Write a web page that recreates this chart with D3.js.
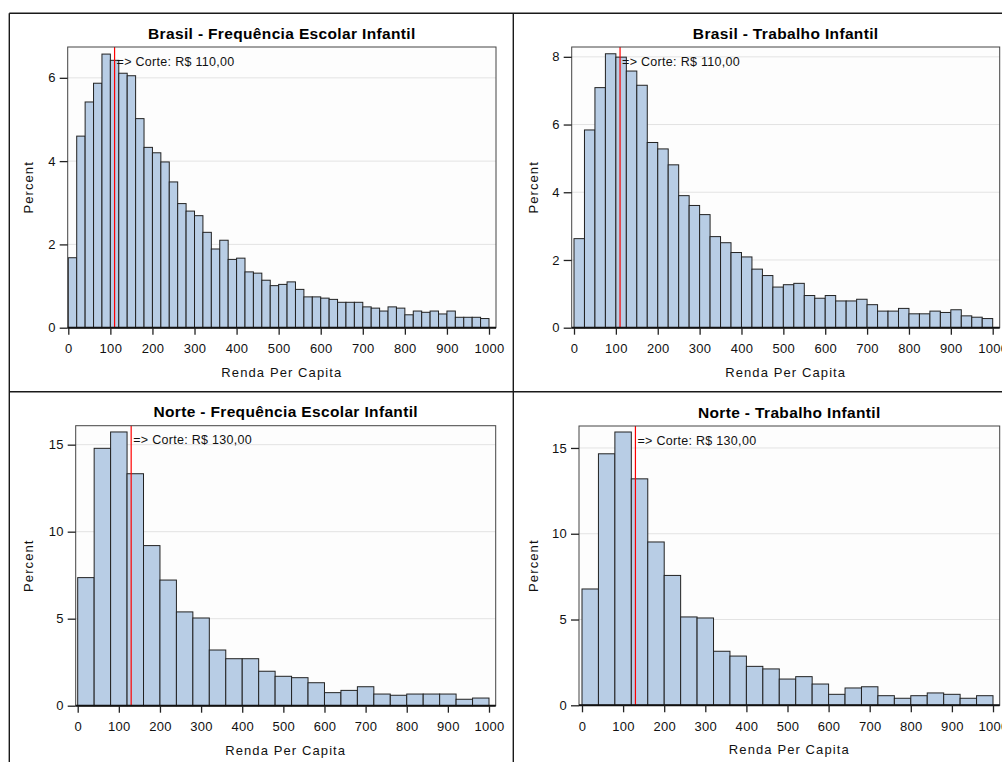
<!DOCTYPE html>
<html>
<head>
<meta charset="utf-8">
<script src="https://cdn.jsdelivr.net/npm/d3@7"></script>
<style>
  body { margin: 0; background: #fff; }
  svg { display: block; font-family: "Liberation Sans", Arial, sans-serif; }
  .title { font-size: 15.5px; font-weight: bold; fill: #000; letter-spacing: 0.35px; }
  .tick-label { font-size: 13px; fill: #111; letter-spacing: 0.3px; }
  .axis-label { font-size: 13px; fill: #111; letter-spacing: 1.1px; }
  .corte { font-size: 12.5px; fill: #111; letter-spacing: 0.3px; }
</style>
</head>
<body>
<svg id="chart" width="1002" height="762"></svg>
<script>
/* values (percent per bin) */
const incomeTicks = [0, 100, 200, 300, 400, 500, 600, 700, 800, 900, 1000];

const brasilEscola = [1.68, 4.60, 5.42, 5.87, 6.57, 6.42, 6.11, 6.05, 5.02, 4.33,
                      4.20, 3.98, 3.50, 2.98, 2.80, 2.69, 2.29, 1.89, 2.10, 1.64,
                      1.67, 1.34, 1.31, 1.14, 1.01, 1.04, 1.10, 0.92, 0.74, 0.74,
                      0.71, 0.68, 0.61, 0.61, 0.61, 0.50, 0.47, 0.40, 0.50, 0.47,
                      0.31, 0.40, 0.37, 0.40, 0.33, 0.40, 0.25, 0.25, 0.25, 0.22];
const brasilTrabalho = [2.63, 5.84, 7.09, 8.09, 7.99, 7.58, 7.16, 5.47, 5.28, 4.81,
                        3.90, 3.61, 3.34, 2.69, 2.51, 2.22, 2.09, 1.73, 1.54, 1.20,
                        1.27, 1.31, 0.95, 0.87, 0.95, 0.79, 0.79, 0.84, 0.68, 0.49,
                        0.49, 0.57, 0.41, 0.41, 0.49, 0.45, 0.53, 0.35, 0.31, 0.27];
const norteEscola = [7.36, 14.79, 15.73, 13.33, 9.20, 7.22, 5.39, 5.04, 3.20, 2.70,
                     2.70, 1.98, 1.69, 1.61, 1.32, 0.75, 0.88, 1.09, 0.67, 0.60,
                     0.67, 0.67, 0.67, 0.37, 0.44];
const norteTrabalho = [6.78, 14.66, 15.93, 13.20, 9.52, 7.57, 5.15, 5.09, 3.15, 2.87,
                       2.27, 2.12, 1.53, 1.67, 1.24, 0.64, 1.01, 1.08, 0.56, 0.41,
                       0.56, 0.72, 0.64, 0.41, 0.56];

const binWidths = [20, 25, 40, 40];
const cortes = [110, 110, 130, 130];
const titles = ['Brasil - Frequência Escolar Infantil', 'Brasil - Trabalho Infantil',
                'Norte - Frequência Escolar Infantil', 'Norte - Trabalho Infantil'];
const yTicksBrasilEscola = [0, 2, 4, 6];
const yTicksBrasilTrabalho = [0, 2, 4, 6, 8];
const yTicksNorte = [0, 5, 10, 15];

const svg = d3.select('#chart');

/* one histogram panel; box = plot frame, x0/x1 = where 0 and 1000 fall */
let panel = (cfg) => {
    let g = svg.append('g');
    let b = cfg.box;

    let xScale = d3.scaleLinear().domain([0, 1000]).range([cfg.x0, cfg.x1]);
    let yScale = d3.scaleLinear().domain([0, cfg.yMax]).range([b.y + b.h, b.y]);

    // plot area + grid
    g.append('rect').attr('x', b.x).attr('y', b.y).attr('width', b.w).attr('height', b.h)
        .attr('fill', '#fdfdfd');
    g.selectAll('.grid').data(cfg.yTicks.filter(d => d > 0)).enter().append('line')
        .attr('x1', b.x).attr('x2', b.x + b.w)
        .attr('y1', d => yScale(d)).attr('y2', d => yScale(d))
        .attr('stroke', '#e3e3e3').attr('stroke-width', 1);

    // bars
    g.selectAll('.bar').data(cfg.values).enter().append('rect')
        .attr('x', (d, i) => xScale(i * cfg.bin))
        .attr('y', d => yScale(d))
        .attr('width', xScale(cfg.bin) - xScale(0))
        .attr('height', d => yScale(0) - yScale(d))
        .attr('fill', '#b8cde5').attr('stroke', '#222').attr('stroke-width', 1);

    // cut-off line + note
    g.append('line').attr('x1', xScale(cfg.corte)).attr('x2', xScale(cfg.corte))
        .attr('y1', b.y).attr('y2', b.y + b.h).attr('stroke', '#ff0000').attr('stroke-width', 1.2);
    g.append('text').classed('corte', true)
        .attr('x', xScale(cfg.corte) + 2).attr('y', b.y + 18.5)
        .text('=> Corte: R$ ' + cfg.corte + ',00');

    // frame
    g.append('rect').attr('x', b.x).attr('y', b.y).attr('width', b.w).attr('height', b.h)
        .attr('fill', 'none').attr('stroke', '#444').attr('stroke-width', 1);
    g.append('line').attr('x1', b.x).attr('x2', b.x + b.w)
        .attr('y1', b.y + b.h).attr('y2', b.y + b.h).attr('stroke', '#111').attr('stroke-width', 2);

    // axes
    let xAxis = d3.axisBottom(xScale).tickValues(incomeTicks).tickSize(7).tickPadding(9)
        .tickFormat(d3.format('d'));
    let xg = g.append('g').attr('transform', 'translate(0,' + (b.y + b.h) + ')').call(xAxis);
    let yAxis = d3.axisLeft(yScale).tickValues(cfg.yTicks).tickSize(8).tickPadding(4)
        .tickFormat(d3.format('d'));
    let yg = g.append('g').attr('transform', 'translate(' + b.x + ',0)').call(yAxis);
    [xg, yg].forEach(a => {
        a.select('.domain').remove();
        a.selectAll('.tick line').attr('stroke', '#222').attr('stroke-width', 1.3);
        a.selectAll('.tick text').attr('class', 'tick-label');
        a.attr('font-family', null).attr('font-size', null);
    });

    // titles
    g.append('text').classed('title', true).attr('text-anchor', 'middle')
        .attr('x', b.x + b.w / 2).attr('y', b.y - 8.5).text(cfg.title);
    g.append('text').classed('axis-label', true).attr('text-anchor', 'middle')
        .attr('x', b.x + b.w / 2).attr('y', b.y + b.h + 49).text('Renda Per Capita');
    g.append('text').classed('axis-label', true).attr('text-anchor', 'middle')
        .attr('transform', 'translate(' + cfg.yLabelX + ',' + (b.y + b.h / 2) + ') rotate(-90)')
        .text('Percent');
};

panel({ title: titles[0], values: brasilEscola, bin: binWidths[0], corte: cortes[0],
        yTicks: yTicksBrasilEscola, yMax: 6.74,
        box: { x: 67.7, y: 47, w: 428.3, h: 280.7 }, x0: 68.3, x1: 489, yLabelX: 32.5 });
panel({ title: titles[1], values: brasilTrabalho, bin: binWidths[1], corte: cortes[1],
        yTicks: yTicksBrasilTrabalho, yMax: 8.29,
        box: { x: 571.7, y: 47, w: 428, h: 280.7 }, x0: 574, x1: 992.7, yLabelX: 537.5 });
panel({ title: titles[2], values: norteEscola, bin: binWidths[2], corte: cortes[2],
        yTicks: yTicksNorte, yMax: 16.09,
        box: { x: 75.7, y: 425.7, w: 420, h: 280 }, x0: 77.7, x1: 489, yLabelX: 32.5 });
panel({ title: titles[3], values: norteTrabalho, bin: binWidths[3], corte: cortes[3],
        yTicks: yTicksNorte, yMax: 16.28,
        box: { x: 579, y: 426, w: 420.7, h: 279.3 }, x0: 582, x1: 993, yLabelX: 537.5 });

// outer grid of the 2x2 layout
const borderLines = [
    [9.3, 13.3, 1002, 13.3], [9.3, 13.3, 9.3, 762],
    [513.3, 13.3, 513.3, 762], [9.3, 391.7, 1002, 391.7]
];
svg.selectAll('.border').data(borderLines).enter().append('line')
    .attr('x1', d => d[0]).attr('y1', d => d[1]).attr('x2', d => d[2]).attr('y2', d => d[3])
    .attr('stroke', '#1a1a1a').attr('stroke-width', 1.4);
</script>
</body>
</html>
